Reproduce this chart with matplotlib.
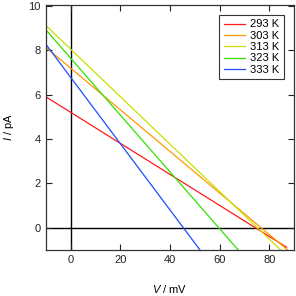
import numpy as np
import matplotlib
matplotlib.use('Agg')
import matplotlib.pyplot as plt

plt.rcParams['font.family'] = ['Liberation Sans', 'DejaVu Sans']
plt.rcParams['mathtext.fontset'] = 'custom'
plt.rcParams['mathtext.it'] = 'Liberation Sans:italic'
plt.rcParams['mathtext.rm'] = 'Liberation Sans'

# temperatures and the straight I-V lines (start / end points)
labels = ['293 K', '303 K', '313 K', '323 K', '333 K']
colors = ['#ff1a1a', '#ff9900', '#c8e000', '#33e000', '#1f4dff']
v_start = [-10, -10, -10, -10, -10]
i_start = [5.9, 8.13, 9.12, 8.92, 8.27]
v_end = [87.0, 87.3, 84.5, 67.4, 52.0]
i_end = [-0.89, -1.0, -1.0, -1.0, -1.0]

fig = plt.figure(figsize=(2.96, 2.96), dpi=100)
ax = fig.add_axes([46/296, 46.3/296, 248/296, 244.7/296])

# zero lines
ax.axvline(0, color='black', lw=1.0, zorder=1)
ax.axhline(0, color='black', lw=1.0, zorder=1)

for k in range(len(labels)):
    ax.plot([v_start[k], v_end[k]], [i_start[k], i_end[k]],
            color=colors[k], lw=0.9, label=labels[k], zorder=2)

ax.set_xlim(-10, 90)
ax.set_ylim(-1, 10.05)
ax.set_xticks([0, 20, 40, 60, 80])
ax.set_yticks([0, 2, 4, 6, 8, 10])
ax.tick_params(direction='in', length=4.3, width=0.8, labelsize=8,
               top=True, right=True, colors='#222222', pad=4)
for s in ax.spines.values():
    s.set_linewidth(0.9)
    s.set_color('#333333')

ax.set_xlabel('$V$ / mV', fontsize=8, labelpad=13)
ax.set_ylabel('$I$ / pA', fontsize=8, labelpad=9)

leg = ax.legend(loc='upper right', fontsize=8, frameon=True, fancybox=False,
                edgecolor='black', handlelength=1.9, handletextpad=0.5,
                labelspacing=0.12, borderpad=0.4, borderaxespad=0.9)
leg.get_frame().set_linewidth(0.8)

fig.savefig('out.png', dpi=100)
